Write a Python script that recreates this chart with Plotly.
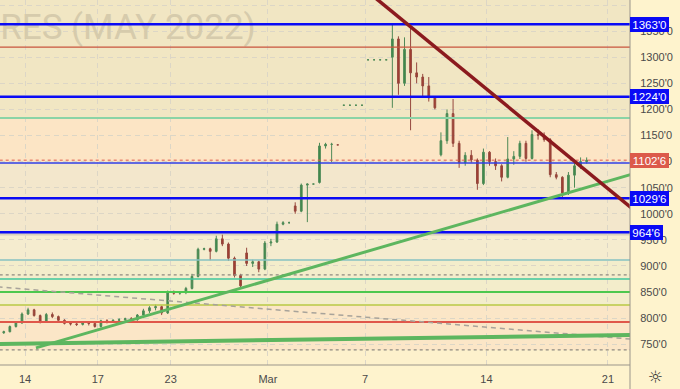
import plotly.graph_objects as go

# ---------------- data ----------------
# trading-day axis: day 0 = Feb 14, 4 bars per trading day, first bar day = -1 (Feb 11)
first_day = -1
bars_per_day = 4
tick_days = [0, 3, 6, 10, 14, 19, 24]
tick_text = ['14', '17', '23', 'Mar', '7', '14', '21']

bar_open = [
    772, 774, 784, 791,        # Feb 11
    808, 816, 805, 794,        # Feb 14
    807, 803, 796, 790,        # Feb 15
    789, 788, 791, 790,        # Feb 16
    784, 795, 793, 796,        # Feb 17
    797, 799, 797, 806,        # Feb 18
    814, 820, 822, 810,        # Feb 22
    849, 848, 849, 857,        # Feb 23
    880, 932, 933, 928,        # Feb 24
    952, 942, 915, 882,        # Feb 25
    925, 905, 908, 894,        # Feb 28
    944, 946, 980, 983,        # Mar 1
    1015, 1005, 1055, 1057,    # Mar 2
    1060, 1130, 1133, 1132,    # Mar 3
    1208, 1208, 1208, 1208,    # Mar 4
    1295, 1295, 1295, 1295,    # Mar 7
    1300, 1335, 1250, 1315,    # Mar 8
    1270, 1262, 1245, 1222,    # Mar 9
    1113, 1140, 1192, 1135,    # Mar 10
    1098, 1112, 1103, 1058,    # Mar 11
    1118, 1100, 1092, 1070,    # Mar 14
    1105, 1110, 1135, 1106,    # Mar 15
    1152, 1150, 1142, 1075,    # Mar 16
    1070, 1040, 1074, 1092,    # Mar 17
    1100,                      # Mar 18
]
bar_high = [
    776, 786, 794, 811,
    820, 818, 807, 810,
    811, 805, 798, 793,
    792, 793, 793, 791,
    797, 798, 798, 800,
    801, 802, 808, 818,
    823, 826, 824, 853,
    853, 851, 860, 885,
    935, 935, 935, 958,
    960, 945, 918, 885,
    935, 912, 910, 948,
    952, 985, 986, 985,
    1022, 1058, 1058, 1057,
    1136, 1136, 1136, 1132,
    1208, 1208, 1208, 1208,
    1295, 1295, 1295, 1295,
    1363, 1340, 1338, 1357,
    1290, 1268, 1262, 1225,
    1156, 1200, 1220, 1140,
    1118, 1122, 1106, 1125,
    1120, 1106, 1095, 1147,
    1120, 1140, 1140, 1160,
    1162, 1156, 1145, 1080,
    1072, 1080, 1098, 1108,
    1108,
]
bar_low = [
    770, 773, 782, 789,
    806, 803, 790, 792,
    800, 794, 788, 786,
    785, 786, 786, 782,
    782, 790, 791, 792,
    794, 795, 795, 800,
    810, 815, 806, 808,
    845, 845, 846, 855,
    878, 930, 911, 926,
    938, 910, 878, 857,
    900, 898, 888, 892,
    938, 944, 978, 981,
    1000, 1003, 984, 1057,
    1058, 1125, 1099, 1132,
    1208, 1208, 1208, 1208,
    1295, 1295, 1295, 1295,
    1203, 1228, 1245, 1160,
    1250, 1222, 1215, 1200,
    1110, 1134, 1128, 1088,
    1092, 1098, 1046, 1055,
    1092, 1084, 1062, 1068,
    1094, 1105, 1100, 1104,
    1142, 1138, 1070, 1066,
    1030, 1036, 1050, 1086,
    1096,
]
bar_close = [
    774, 784, 791, 808,
    816, 805, 794, 807,
    803, 796, 790, 789,
    788, 791, 790, 784,
    795, 793, 796, 797,
    799, 797, 806, 814,
    820, 822, 810, 849,
    848, 849, 857, 880,
    932, 933, 928, 952,
    942, 915, 882, 862,
    905, 908, 894, 944,
    946, 980, 983, 983,
    1005, 1055, 1057, 1057,
    1130, 1133, 1133, 1132,
    1208, 1208, 1208, 1208,
    1295, 1295, 1295, 1295,
    1335, 1250, 1315, 1270,
    1262, 1245, 1222, 1203,
    1140, 1192, 1135, 1098,
    1112, 1103, 1058, 1118,
    1100, 1092, 1070, 1105,
    1110, 1135, 1106, 1152,
    1150, 1142, 1075, 1070,
    1040, 1074, 1092, 1100,
    1102.75,
]

# horizontal levels (price)
blue_levels = [1363.0, 1224.0, 1029.75, 964.75]
thin_blue_level = [1097.3]
red_levels = [1319.5, 792.7]
green_level_light = [1183.5]
teal_level = [911.5]
aqua_green_level = [875.1]
green_level = [850.2]
olive_level = [825.3]
grey_dotted_levels = [882.8, 739.1]
last_price = 1102.75

# background zones (price from, price to)
zone_lo = [1183.5, 1097.3, 964.75, 958.0, 911.5, 825.3, 739.1, 700.0]
zone_hi = [1420.0, 1183.5, 1097.3, 964.75, 958.0, 911.5, 825.3, 739.1]
zone_colors = ['#F1E6C3', '#FCE5C5', '#F3E7CC', '#D9D0BF', '#F5ECCF', '#F3EDCB', '#FBE6C7', '#FDF1CC']

# trend lines (day, price)
resist_x, resist_y = [14.0, 25.5], [1429.8, 991.0]
support_x, support_y = [0.45, 25.5], [743.0, 1082.8]
base_x, base_y = [-1.5, 25.5], [750.3, 768.2]
dash_x, dash_y = [-1.5, 25.5], [861.6, 757.8]

# price axis
ytick_vals = [750, 800, 850, 900, 950, 1000, 1050, 1100, 1150, 1200, 1250, 1300, 1350, 1400]
ytick_text = ["750'0", "800'0", "850'0", "900'0", "950'0", "1000'0", "1050'0", "1100'0",
              "1150'0", "1200'0", "1250'0", "1300'0", "1350'0", "1400'0"]

tag_values = [1363.0, 1224.0, 1102.75, 1029.75, 964.75]
tag_text = ["1363'0", "1224'0", "1102'6", "1029'6", "964'6"]
tag_colors = ['#0A0AF5', '#0A0AF5', '#DC5A4A', '#0A0AF5', '#0A0AF5']

watermark = 'WHEAT FUTURES (MAY 2022)'

# ---------------- figure ----------------
X_RANGE = [-1.03, 24.91]
Y_RANGE = [710.3, 1409.6]
PAGE = '#FEF3CD'
FONT = 'Liberation Sans, Arial, sans-serif'

bar_x = [first_day + (i + 0.5) / bars_per_day for i in range(len(bar_close))]

fig = go.Figure()

# watermark (behind everything drawn as traces)
fig.add_trace(go.Scatter(
    x=[9.5], y=[1352], mode='text', text=[watermark], textposition='middle left',
    textfont=dict(family='Roboto, sans-serif', size=35, color='#D6CBAC'),
    hoverinfo='skip', showlegend=False))


def hline(levels, color, width, dash='solid'):
    for v in levels:
        fig.add_trace(go.Scatter(
            x=[X_RANGE[0] - 1, X_RANGE[1] + 1], y=[v, v], mode='lines',
            line=dict(color=color, width=width, dash=dash),
            hoverinfo='skip', showlegend=False))


hline(grey_dotted_levels, '#8F8A80', 1.3, 'dot')
hline(teal_level, '#86C2C2', 1.5)
hline(aqua_green_level, '#3FC79C', 1.5)
hline(green_level, '#4CC84E', 2)
hline(olive_level, '#B9C845', 1.5)
hline(red_levels[:1], '#C8553E', 1.3)
hline(red_levels[1:], '#E0574A', 2)
hline(green_level_light, '#8AD4A6', 2.2)
hline(thin_blue_level, '#2F3FE8', 1.5)
hline(blue_levels, '#0A0AF5', 2.5)
hline([last_price], '#E0584A', 1, 'dot')

# trend lines
fig.add_trace(go.Scatter(x=dash_x, y=dash_y, mode='lines',
                         line=dict(color='#A8A39A', width=1.5, dash='5px,4px'),
                         hoverinfo='skip', showlegend=False))
fig.add_trace(go.Scatter(x=base_x, y=base_y, mode='lines',
                         line=dict(color='#5DB65F', width=4),
                         hoverinfo='skip', showlegend=False))
fig.add_trace(go.Scatter(x=support_x, y=support_y, mode='lines',
                         line=dict(color='#5DB65F', width=3),
                         hoverinfo='skip', showlegend=False))

# candles
fig.add_trace(go.Candlestick(
    x=bar_x, open=bar_open, high=bar_high, low=bar_low, close=bar_close,
    increasing=dict(line=dict(color='#4E8A57', width=1), fillcolor='#3C8A47'),
    decreasing=dict(line=dict(color='#96483E', width=1), fillcolor='#A33C2E'),
    hoverinfo='skip', showlegend=False))

fig.add_trace(go.Scatter(x=resist_x, y=resist_y, mode='lines',
                         line=dict(color='#8B1A1E', width=3.5),
                         hoverinfo='skip', showlegend=False))

shapes = []
for lo, hi, c in zip(zone_lo, zone_hi, zone_colors):
    shapes.append(dict(type='rect', xref='paper', x0=0, x1=1, yref='y', y0=lo, y1=hi,
                       fillcolor=c, line=dict(width=0), layer='below'))
# axis borders
H_PLOT = 365
shapes.append(dict(type='line', xref='paper', x0=1, x1=1, yref='paper', y0=-24 / H_PLOT, y1=1,
                   line=dict(color='#9A958B', width=1), layer='above'))
shapes.append(dict(type='line', xref='paper', x0=0, x1=1, yref='paper', y0=0, y1=0,
                   line=dict(color='#9A958B', width=1), layer='above'))

annotations = []
for v, t, c in zip(tag_values, tag_text, tag_colors):
    annotations.append(dict(
        xref='paper', x=1, xanchor='left', yref='y', y=v, yanchor='middle',
        text=t, showarrow=False, bgcolor=c, borderpad=0, borderwidth=0,
        width=6.3 * len(t) + 1, height=15,
        font=dict(family=FONT, size=11.5, color='white')))
annotations.append(dict(xref='paper', x=655 / 630, yref='paper', y=-12 / H_PLOT,
                        xanchor='center', yanchor='middle', text='☼', showarrow=False,
                        font=dict(family='DejaVu Sans', size=17, color='#333333')))

fig.update_layout(
    width=680, height=389, autosize=False,
    margin=dict(l=0, r=50, t=0, b=24, pad=0),
    paper_bgcolor=PAGE, plot_bgcolor=PAGE,
    boxgap=0.6,
    shapes=shapes, annotations=annotations,
    showlegend=False,
    xaxis=dict(range=X_RANGE, tickvals=tick_days, ticktext=tick_text,
               showgrid=True, gridcolor='#DCD6C6', griddash='5px,4px', gridwidth=1,
               zeroline=False, showline=False, ticks='outside', ticklen=4,
               tickcolor='rgba(0,0,0,0)',
               tickfont=dict(family=FONT, size=11, color='#4A4A4A'),
               rangeslider=dict(visible=False), fixedrange=True),
    yaxis=dict(range=Y_RANGE, side='right', tickvals=ytick_vals, ticktext=ytick_text,
               showgrid=True, gridcolor='#DCD6C6', griddash='5px,4px', gridwidth=1,
               zeroline=False, showline=False, ticks='outside', ticklen=7,
               tickcolor='rgba(0,0,0,0)',
               tickfont=dict(family=FONT, size=11, color='#4A4A4A'), fixedrange=True),
)

fig.write_html('out.html', config={'displayModeBar': False},
               post_script="document.body.style.margin='0';document.body.style.background='" + PAGE + "';")
